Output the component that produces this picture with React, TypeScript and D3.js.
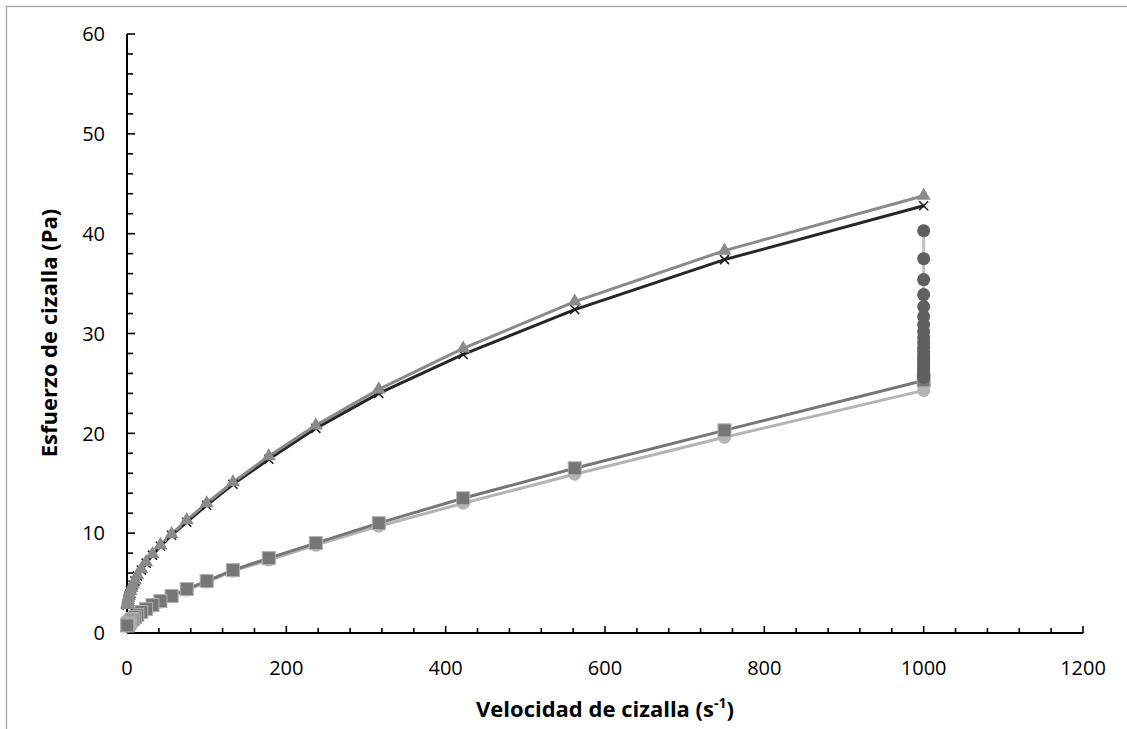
import React from "react";
import * as d3 from "d3";

const shearRate = [1000, 750, 562, 422, 316, 237, 178, 133, 100, 75, 56, 42, 32, 24, 18, 13, 10, 7.5, 5.6, 4.2, 3.2, 2.4, 1.8, 1.3, 1.0, 0.75, 0.56, 0.42];
const stressTriangle = [43.8, 38.3, 33.2, 28.5, 24.4, 20.8, 17.7, 15.1, 13.0, 11.3, 9.9, 8.8, 7.9, 7.1, 6.4, 5.8, 5.3, 4.9, 4.5, 4.2, 3.9, 3.7, 3.5, 3.3, 3.1, 3.0, 2.9, 2.8];
const stressCross = [42.8, 37.4, 32.4, 27.9, 24.0, 20.5, 17.4, 14.9, 12.8, 11.1, 9.8, 8.7, 7.8, 7.0, 6.3, 5.7, 5.2, 4.8, 4.5, 4.2, 3.9, 3.7, 3.5, 3.3, 3.1, 3.0, 2.9, 2.8];
const stressSquare = [25.3, 20.3, 16.5, 13.5, 11.0, 9.0, 7.5, 6.3, 5.2, 4.4, 3.7, 3.2, 2.8, 2.4, 2.1, 1.8, 1.6, 1.4, 1.3, 1.15, 1.05, 0.98, 0.92, 0.87, 0.83, 0.8, 0.78, 0.76];
const stressCircle = [24.3, 19.6, 15.9, 13.0, 10.7, 8.8, 7.3, 6.2, 5.1, 4.3, 3.7, 3.1, 2.7, 2.3, 2.0, 1.7, 1.5, 1.3, 1.2, 1.1, 1.0, 0.93, 0.87, 0.82, 0.78, 0.75, 0.73, 0.71];
const holdRate = 1000;
const holdStress = [40.3, 37.5, 35.4, 33.9, 32.7, 31.7, 30.9, 30.2, 29.6, 29.1, 28.6, 28.2, 27.8, 27.5, 27.2, 26.9, 26.6, 26.4, 26.2, 26.0, 25.8, 25.6];

const xTicks = [0, 200, 400, 600, 800, 1000, 1200];
const yTicks = [0, 10, 20, 30, 40, 50, 60];
const xLabel = "Velocidad de cizalla (s";
const yLabel = "Esfuerzo de cizalla (Pa)";

const W = 1127;
const H = 729;
const FONT = "'Open Sans', Lato, sans-serif";

export default function App() {
  const x = d3.scaleLinear().domain([0, 1200]).range([127, 1083]);
  const y = d3.scaleLinear().domain([0, 60]).range([633, 34]);
  const line = d3
    .line<[number, number]>()
    .x((d) => x(d[0]))
    .y((d) => y(d[1]));

  const zip = (vals: number[]) => shearRate.map((r, i) => [r, vals[i]] as [number, number]);
  const tri = zip(stressTriangle);
  const cross = zip(stressCross);
  const sq = zip(stressSquare);
  const circ = zip(stressCircle);
  const hold = holdStress.map((v) => [holdRate, v] as [number, number]);

  const xMinor = d3.range(0, 1201, 40);
  const yMinor = d3.range(0, 61, 2);
  const triPath = d3.symbol(d3.symbolTriangle, 85)()!;
  const xPath = d3.symbol(d3.symbolX, 55)()!;

  return (
    <svg width={W} height={H} style={{ position: "absolute", left: 0, top: 0, background: "#fff" }}>
      <rect x={6.5} y={6.5} width={1130} height={740} fill="#fff" stroke="#a6a6a6" strokeWidth={1.3} />

      {/* axes */}
      <line x1={x(0)} x2={x(0)} y1={y(60)} y2={y(0)} stroke="#000" strokeWidth={2} />
      <line x1={x(0)} x2={x(1200)} y1={y(0)} y2={y(0)} stroke="#000" strokeWidth={2} />
      {yMinor.map((v) => (
        <line key={"ym" + v} x1={x(0)} x2={x(0) + (v % 10 === 0 ? 8 : 6)} y1={y(v)} y2={y(v)} stroke="#000" strokeWidth={1.6} />
      ))}
      {xMinor.map((v) => (
        <line key={"xm" + v} x1={x(v)} x2={x(v)} y1={y(0)} y2={y(0) - (v % 200 === 0 ? 7 : 5)} stroke="#000" strokeWidth={1.6} />
      ))}
      {yTicks.map((v) => (
        <text key={"yt" + v} x={105} y={y(v)} dy="0.36em" textAnchor="end" fontFamily={FONT} fontSize={20} fill="#000">
          {v}
        </text>
      ))}
      {xTicks.map((v) => (
        <text key={"xt" + v} x={x(v)} y={675} textAnchor="middle" fontFamily={FONT} fontSize={20} fill="#000">
          {v}
        </text>
      ))}

      {/* series: lower curves */}
      <path d={line(circ)!} fill="none" stroke="#b4b4b4" strokeWidth={3} />
      {circ.map((d, i) => (
        <circle key={"c" + i} cx={x(d[0])} cy={y(d[1])} r={6.5} fill="#b4b4b4" />
      ))}
      <path d={line(sq)!} fill="none" stroke="#767676" strokeWidth={3} />
      {sq.map((d, i) => (
        <rect key={"s" + i} x={x(d[0]) - 6.5} y={y(d[1]) - 6.5} width={13} height={13} fill="#767676" stroke="#b0b0b0" strokeWidth={1} />
      ))}

      {/* hold column */}
      <path d={line(hold)!} fill="none" stroke="#c0c0c0" strokeWidth={3} />
      {hold.map((d, i) => (
        <circle key={"h" + i} cx={x(d[0])} cy={y(d[1])} r={6.5} fill="#5f5f5f" />
      ))}

      {/* upper curves */}
      <path d={line(cross)!} fill="none" stroke="#262626" strokeWidth={3} />
      <path d={line(tri)!} fill="none" stroke="#8a8a8a" strokeWidth={3} />
      {cross.map((d, i) => (
        <path key={"x" + i} d={xPath} transform={`translate(${x(d[0])},${y(d[1])})`} stroke="#1a1a1a" strokeWidth={1.5} fill="none" />
      ))}
      {tri.map((d, i) => (
        <path key={"t" + i} d={triPath} transform={`translate(${x(d[0])},${y(d[1])})`} fill="#8a8a8a" />
      ))}

      {/* axis titles */}
      <text x={605} y={717} textAnchor="middle" fontFamily={FONT} fontWeight="bold" fontSize={22} fill="#000">
        {xLabel}
        <tspan dy={-9} fontSize={14}>-1</tspan>
        <tspan dy={9}>)</tspan>
      </text>
      <text
        transform={`translate(57,333) rotate(-90)`}
        textAnchor="middle"
        fontFamily={FONT}
        fontWeight="bold"
        fontSize={22}
        fill="#000"
      >
        {yLabel}
      </text>
    </svg>
  );
}
